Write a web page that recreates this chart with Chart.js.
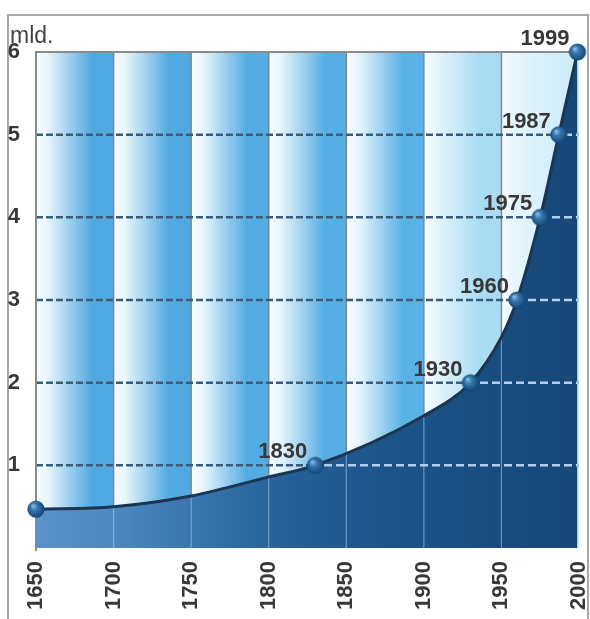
<!DOCTYPE html>
<html><head><meta charset="utf-8">
<script src="https://cdn.jsdelivr.net/npm/chart.js@4.4.1/dist/chart.umd.min.js"></script>
<style>html,body{margin:0;padding:0;background:#fff}#wrap{width:590px;height:619px;position:relative}</style>
</head><body><div id="wrap"><canvas id="c"></canvas></div>
<script>
// ---- data ----
const years       = [1650, 1700, 1750, 1800, 1830, 1900, 1930, 1950, 1960, 1975, 1987, 1999];
const population  = [0.47, 0.50, 0.63, 0.86, 1.00, 1.60, 2.00, 2.55, 3.00, 4.00, 5.00, 6.00];
const pointLabels = ['',   '',   '',   '',   '1830','',  '1930','',   '1960','1975','1987','1999'];
const hasMarker   = [true, false,false,false,true, false,true, false, true, true, true, true];
const xTicks = [1650, 1700, 1750, 1800, 1850, 1900, 1950, 2000];
const yTicks = [1, 2, 3, 4, 5, 6];
const unitLabel = 'mld.';

// ---- styling ----
const FONT = '"Liberation Sans", Arial, sans-serif';
const TEXT = '#383838';
const bandBlue = ['#50a9e1','#50a9e1','#53ace2','#56afe4','#5ab3e6','#a9dcf3','#cfeefa'];

function sphere(){
  const c = document.createElement('canvas'); c.width = 20; c.height = 20;
  const g = c.getContext('2d');
  const gr = g.createRadialGradient(7, 6.5, 0.5, 10, 10, 9.5);
  gr.addColorStop(0, '#86bde6'); gr.addColorStop(0.35, '#3878ae');
  gr.addColorStop(0.8, '#1b5184'); gr.addColorStop(1, '#123a62');
  g.fillStyle = gr; g.beginPath(); g.arc(10, 10, 8.6, 0, Math.PI*2); g.fill();
  return c;
}
const ball = sphere();

const decor = {
  id: 'decor',
  beforeDraw(chart){
    const {ctx, chartArea: a, scales: {x}} = chart;
    ctx.save();
    ctx.fillStyle = '#fff'; ctx.fillRect(0, 0, chart.width, chart.height);
    ctx.strokeStyle = '#a8a8a8'; ctx.lineWidth = 2;
    ctx.beginPath(); ctx.moveTo(8, 640); ctx.lineTo(8, 15); ctx.lineTo(588, 15); ctx.lineTo(588, 640); ctx.stroke();
    for (let i = 0; i < xTicks.length - 1; i++) {
      const x0 = x.getPixelForValue(xTicks[i]), x1 = x.getPixelForValue(xTicks[i+1]);
      const gr = ctx.createLinearGradient(x0, 0, x1, 0);
      gr.addColorStop(0, '#f6fcff'); gr.addColorStop(0.15, '#e8f6fc');
      gr.addColorStop(0.72, bandBlue[i]); gr.addColorStop(1, bandBlue[i]);
      ctx.fillStyle = gr; ctx.fillRect(x0, a.top, x1 - x0, a.bottom - a.top);
    }
    ctx.restore();
  },
  beforeDatasetsDraw(chart){
    const {ctx, chartArea: a, scales: {x, y}} = chart;
    ctx.save();
    ctx.strokeStyle = '#76879a'; ctx.lineWidth = 1.5;
    xTicks.slice(1, -1).forEach(v => {
      const px = x.getPixelForValue(v);
      ctx.beginPath(); ctx.moveTo(px, a.top); ctx.lineTo(px, a.bottom); ctx.stroke();
    });
    ctx.strokeStyle = '#3a5b7a'; ctx.lineWidth = 2.5; ctx.setLineDash([7, 3]);
    yTicks.slice(0, -1).forEach(v => {
      const py = y.getPixelForValue(v);
      ctx.beginPath(); ctx.moveTo(a.left, py); ctx.lineTo(a.right, py); ctx.stroke();
    });
    ctx.setLineDash([]);
    ctx.strokeStyle = '#8a8a8a'; ctx.lineWidth = 2;
    ctx.beginPath(); ctx.moveTo(a.left, a.bottom + 3); ctx.lineTo(a.left, a.top); ctx.lineTo(a.right, a.top); ctx.stroke();
    ctx.restore();
  },
  beforeDatasetDraw(chart, args){
    if (args.index !== 0) return;
    const {ctx, chartArea: a, scales: {x, y}} = chart;
    const meta = chart.getDatasetMeta(0);
    const pts = meta.data, line = meta.dataset;
    ctx.save();
    ctx.beginPath();
    if (line && typeof line.path === 'function') line.path(ctx);
    else pts.forEach((p, i) => i ? ctx.lineTo(p.x, p.y) : ctx.moveTo(p.x, p.y));
    ctx.lineTo(a.right, pts[pts.length-1].y);
    ctx.lineTo(a.right, a.bottom); ctx.lineTo(pts[0].x, a.bottom); ctx.closePath();
    ctx.clip();
    ctx.strokeStyle = 'rgba(175,205,235,0.55)'; ctx.lineWidth = 1.2;
    xTicks.slice(1, -1).forEach(v => {
      const px = x.getPixelForValue(v);
      ctx.beginPath(); ctx.moveTo(px, a.top); ctx.lineTo(px, a.bottom); ctx.stroke();
    });
    ctx.strokeStyle = '#b4d0ea'; ctx.lineWidth = 2.5; ctx.setLineDash([8, 4]);
    yTicks.slice(0, -1).forEach(v => {
      const py = y.getPixelForValue(v);
      ctx.beginPath(); ctx.moveTo(a.left, py); ctx.lineTo(a.right, py); ctx.stroke();
    });
    ctx.restore();
  },
  afterDatasetsDraw(chart){
    const {ctx} = chart;
    const pts = chart.getDatasetMeta(0).data;
    ctx.save();
    ctx.font = 'bold 22px ' + FONT; ctx.fillStyle = TEXT;
    ctx.textAlign = 'right'; ctx.textBaseline = 'alphabetic';
    pts.forEach((p, i) => { if (pointLabels[i]) ctx.fillText(pointLabels[i], p.x - 8, p.y - 7); });
    ctx.font = '23px ' + FONT; ctx.textAlign = 'left'; ctx.fillStyle = '#444';
    ctx.fillText(unitLabel, 10, 43);
    ctx.restore();
  }
};

const ctx = document.getElementById('c');
new Chart(ctx, {
  type: 'line',
  data: {
    datasets: [{
      data: years.map((yr, i) => ({x: yr, y: population[i]})),
      borderColor: '#1b3552', borderWidth: 3,
      cubicInterpolationMode: 'monotone',
      fill: 'start',
      backgroundColor: (c) => {
        const a = c.chart.chartArea; if (!a) return '#1f5a8e';
        const g = c.chart.ctx.createLinearGradient(a.left, 0, a.right, 0);
        g.addColorStop(0, '#5a93c9'); g.addColorStop(0.15, '#4c87be');
        g.addColorStop(0.32, '#3372aa'); g.addColorStop(0.48, '#245f96');
        g.addColorStop(0.65, '#1c548a'); g.addColorStop(1, '#164778');
        return g;
      },
      pointStyle: ball,
      pointRadius: hasMarker.map(m => m ? 8 : 0),
      pointHoverRadius: hasMarker.map(m => m ? 8 : 0),
      clip: false
    }]
  },
  options: {
    responsive: true, maintainAspectRatio: false, animation: false,
    layout: {padding: {top: 52, right: 8, left: 0, bottom: 0}},
    plugins: {legend: {display: false}, tooltip: {enabled: false}},
    scales: {
      x: {
        type: 'linear', min: xTicks[0], max: xTicks[xTicks.length-1],
        afterBuildTicks: s => { s.ticks = xTicks.map(v => ({value: v})); },
        afterFit: s => { s.height = 71; s.paddingLeft = 0; s.paddingRight = 0; },
        grid: {display: false}, border: {display: false},
        ticks: {autoSkip: false, minRotation: 90, maxRotation: 90, padding: 5,
          color: TEXT, font: {family: FONT, size: 22, weight: 'bold'}, callback: v => String(v)}
      },
      y: {
        min: 0, max: 6,
        afterBuildTicks: s => { s.ticks = yTicks.map(v => ({value: v})); },
        afterFit: s => { s.width = 36; s.paddingTop = 0; s.paddingBottom = 0; },
        grid: {display: false}, border: {display: false},
        ticks: {padding: 8, color: TEXT, font: {family: FONT, size: 22, weight: 'bold'}}
      }
    }
  },
  plugins: [decor]
});
</script></body></html>
